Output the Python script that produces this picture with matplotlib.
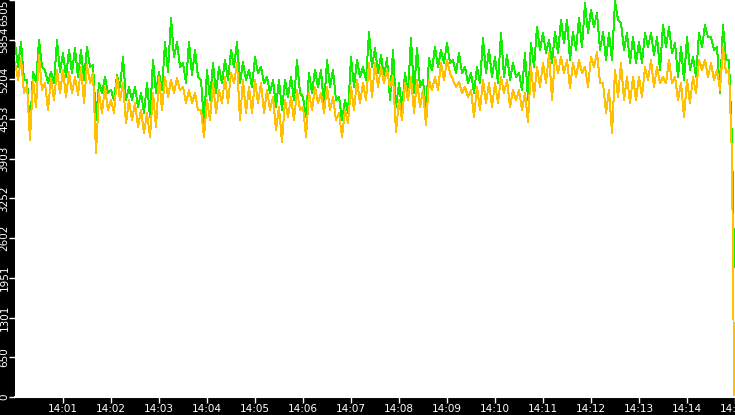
import numpy as np
import matplotlib
matplotlib.use("Agg")
import matplotlib.pyplot as plt
import matplotlib.dates as mdates
from matplotlib.ticker import FuncFormatter

# sampled every 3.75 s from 14:00:00, last sample just before 14:15
green = [
    5800, 5407, 5817, 5194, 5194, 4375, 5325, 5161, 5849, 5407,
    5358, 5145, 5325, 5145, 5849, 5325, 5636, 5243, 5686, 5309,
    5718, 5243, 5686, 5194, 5735, 5407, 5440, 4539, 5145, 4981,
    5243, 4981, 5030, 4866, 5276, 5079, 5571, 4866, 5079, 4866,
    5079, 4752, 4981, 4653, 5145, 4588, 5522, 4981, 5325, 5030,
    5817, 5325, 6210, 5571, 5817, 5407, 5473, 5145, 5817, 5276,
    5686, 5243, 5194, 4490, 5358, 4866, 5473, 4981, 5407, 5145,
    5522, 5194, 5686, 5407, 5817, 5145, 5489, 5194, 5358, 5079,
    5571, 5309, 5407, 5145, 5243, 4981, 5194, 4752, 5194, 4703,
    5194, 4916, 5243, 4866, 5522, 4981, 4916, 4588, 5309, 4981,
    5358, 5079, 5358, 4752, 5522, 5079, 5358, 4866, 4916, 4539,
    4866, 4653, 5571, 5079, 5522, 5243, 5407, 5194, 5981, 5407,
    5718, 5309, 5604, 5243, 5554, 4866, 5686, 4752, 5145, 4703,
    5309, 4981, 5882, 4981, 5718, 5079, 5194, 4653, 5554, 5358,
    5735, 5407, 5686, 5473, 5800, 5473, 5522, 5309, 5636, 5309,
    5407, 5145, 5309, 4981, 5407, 5145, 5882, 5309, 5686, 5243,
    5571, 5145, 5964, 5243, 5604, 5194, 5473, 5243, 5309, 5030,
    5636, 4866, 5800, 5407, 6062, 5686, 5964, 5636, 5849, 5473,
    5981, 5636, 6177, 5800, 6177, 5522, 5981, 5686, 6210, 5735,
    6456, 5964, 6341, 6062, 6292, 5686, 5981, 5522, 5964, 5522,
    6490, 6177, 6128, 5686, 5964, 5473, 5899, 5473, 5817, 5473,
    5964, 5735, 5964, 5604, 5899, 5358, 6095, 5735, 6062, 5636,
    5800, 5243, 5735, 5194, 5899, 5358, 5571, 5243, 5964, 5735,
    6095, 5899, 5899, 5686, 5735, 4981, 6095, 5522, 5522, 4178,
    2130,
]
yellow = [
    5489, 5194, 5554, 4981, 5112, 4211, 5194, 4752, 5604, 5030,
    5145, 4703, 5227, 4866, 5358, 4981, 5358, 4916, 5325, 4981,
    5243, 4948, 5407, 4817, 5440, 5145, 5309, 3998, 4981, 4653,
    5079, 4703, 4866, 4653, 5243, 4866, 5145, 4490, 4866, 4539,
    4817, 4424, 4703, 4326, 4653, 4260, 4981, 4424, 5243, 4703,
    5243, 4916, 5194, 4981, 5227, 5030, 5079, 4817, 5030, 4817,
    4981, 4703, 4703, 4260, 4866, 4539, 5145, 4653, 5030, 4817,
    5243, 4817, 5309, 5145, 5473, 4539, 5194, 4653, 5079, 4653,
    5194, 4817, 5145, 4653, 5030, 4703, 4916, 4375, 4752, 4178,
    4866, 4588, 4916, 4539, 5030, 4703, 4752, 4260, 4981, 4703,
    5079, 4817, 4981, 4653, 5079, 4703, 4916, 4539, 4653, 4260,
    4703, 4490, 5079, 4703, 5194, 4817, 5145, 4866, 5473, 4916,
    5473, 5079, 5407, 5145, 5358, 5079, 5243, 4342, 4866, 4539,
    5145, 4866, 5243, 4653, 5194, 4752, 5030, 4457, 5194, 5030,
    5243, 5030, 5473, 5194, 5522, 5309, 5194, 5079, 5161, 4981,
    5079, 4916, 5030, 4588, 5079, 4703, 5194, 4817, 5145, 4752,
    5145, 4817, 5243, 4981, 5194, 4752, 5030, 4866, 5030, 4703,
    4981, 4506, 5407, 4916, 5407, 5079, 5473, 5145, 5636, 4866,
    5571, 5309, 5571, 5309, 5522, 5063, 5473, 5243, 5522, 5309,
    5407, 5079, 5571, 5407, 5653, 5145, 5145, 4653, 5030, 4326,
    5358, 4916, 5473, 4866, 5243, 4817, 5243, 4866, 5243, 4916,
    5407, 5194, 5522, 5079, 5407, 5145, 5243, 5145, 5522, 5145,
    5243, 4866, 5145, 4588, 5194, 4817, 5243, 4981, 5522, 5358,
    5522, 5243, 5473, 5194, 5358, 5030, 5735, 5309, 5358, 3932,
    0,
]
y_max = 6505

start = np.datetime64("2024-01-01T14:00:00")
n = len(green) - 1
offsets_ms = np.append(np.arange(n) * 3750, 899000)
times = start + offsets_ms.astype("timedelta64[ms]")
end = start + np.timedelta64(15, "m")

fig = plt.figure(figsize=(7.35, 4.15), dpi=100, facecolor="black")
ax = fig.add_axes([15 / 735, 18 / 415, 720 / 735, 397 / 415])
ax.set_facecolor("white")

ax.plot(times, green, color="#11ee00", lw=0.7, antialiased=False)
ax.plot(times, yellow, color="#ffc000", lw=0.7, antialiased=False)

ax.set_xlim(start, end)
ax.set_ylim(0, y_max)

ax.set_xticks([start + np.timedelta64(m, "m") for m in range(1, 16)])
ax.xaxis.set_major_formatter(mdates.DateFormatter("%H:%M"))
ax.set_yticks(np.arange(11) * y_max / 10)
ax.yaxis.set_major_formatter(FuncFormatter(lambda v, p: str(int(v))))

for s in ["top", "right", "left"]:
    ax.spines[s].set_visible(False)
ax.spines["bottom"].set_color("white")
ax.spines["bottom"].set_linewidth(1.5)

ax.tick_params(colors="white", labelsize=7.5, length=4, width=1)
ax.tick_params(axis="x", pad=1)
ax.tick_params(axis="y", pad=0, labelrotation=90)
for lab in ax.get_yticklabels():
    lab.set_va("center")
ax.get_yticklabels()[-1].set_va("top")

fig.savefig("out.png", dpi=100, facecolor="black")
